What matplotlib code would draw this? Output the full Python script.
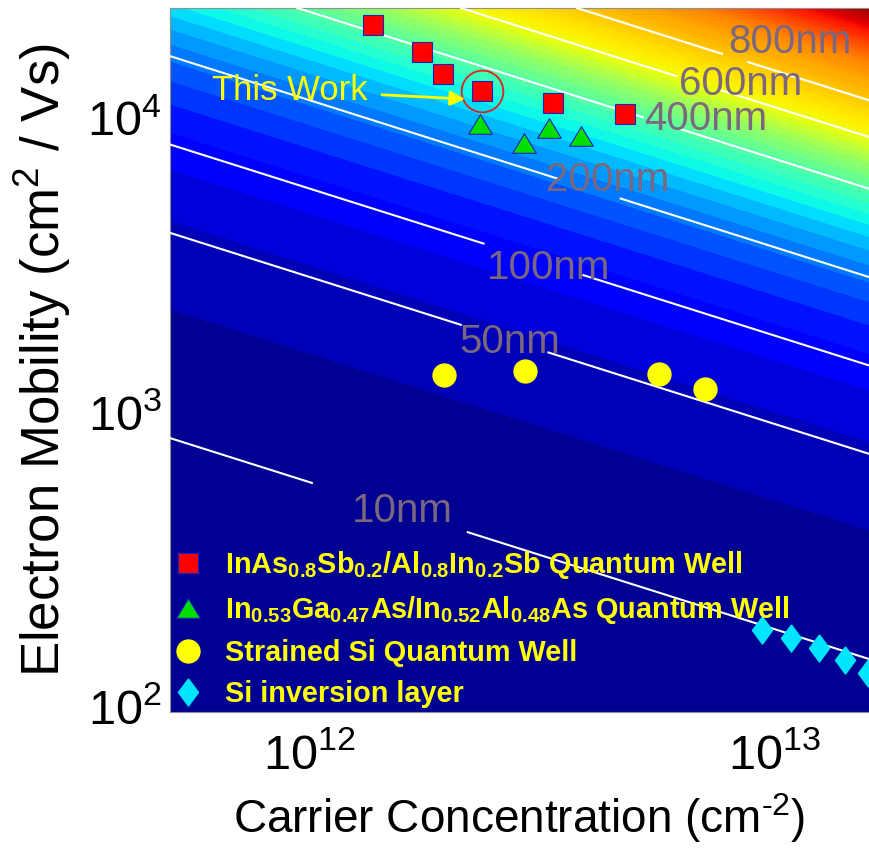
import numpy as np
import matplotlib
matplotlib.use('Agg')
import matplotlib.pyplot as plt
from matplotlib.colors import FuncNorm
from matplotlib.ticker import NullFormatter
from matplotlib.transforms import ScaledTranslation

plt.rcParams['font.family'] = ['Liberation Sans', 'DejaVu Sans']
plt.rcParams['mathtext.fontset'] = 'custom'
plt.rcParams['mathtext.rm'] = 'Liberation Sans'
plt.rcParams['mathtext.it'] = 'Liberation Sans:italic'
plt.rcParams['mathtext.bf'] = 'Liberation Sans:bold'
plt.rcParams['mathtext.default'] = 'regular'

# 实验数据: 载流子浓度 (cm^-2) 与电子迁移率 (cm^2/Vs)
inas_n = [1.37e12, 1.74e12, 1.94e12, 2.35e12, 3.34e12, 4.77e12]
inas_mu = [21900, 17700, 14900, 13000, 11900, 10900]
this_work_idx = 3

ingaas_n = [2.33e12, 2.89e12, 3.28e12, 3.84e12]
ingaas_mu = [10100, 8700, 9750, 9160]

ssi_n = [1.95e12, 2.91e12, 5.65e12, 7.10e12]
ssi_mu = [1405, 1450, 1417, 1259]

siinv_n = [9.41e12, 1.087e13, 1.25e13, 1.42e13, 1.59e13]
siinv_mu = [190, 179, 165, 150, 136]

series_labels = [
    r'InAs$_{0.8}$Sb$_{0.2}$/Al$_{0.8}$In$_{0.2}$Sb Quantum Well',
    r'In$_{0.53}$Ga$_{0.47}$As/In$_{0.52}$Al$_{0.48}$As Quantum Well',
    'Strained Si Quantum Well',
    'Si inversion layer',
]

# 平均自由程等值线 (nm) 及标注
mfp_levels = [10, 50, 100, 200, 400, 600, 800]
mfp_text = ['10nm', '50nm', '100nm', '200nm', '400nm', '600nm', '800nm']
mfp_text_n = [1.58e12, 2.69e12, 3.26e12, 4.37e12, 7.13e12, 8.48e12, 1.08e13]
mfp_text_mu = [484, 1820, 3250, 6490, 10460, 13770, 19140]
# 每条线在标注处断开的浓度区间
gap_lo = [1.016e12, 2.128e12, 2.384e12, 3.458e12, 5.22e12, 6.18e12, 7.76e12]
gap_hi = [2.16e12, 3.26e12, 3.876e12, 4.657e12, 6.27e12, 7.64e12, 8.78e12]

# 背景色阶: 平均自由程 -> jet 位置
cmap_l = [0, 100, 300, 600, 800, 1085, 1391, 1700]
cmap_p = [0, 0.115, 0.355, 0.64, 0.70, 0.77, 0.89, 1.0]
fill_step = 27.5

xlim = (5e11, 1.6e13)
ylim = (1e2, 2.5e4)

HBAR = 1.054571817e-34
QE = 1.602176634e-19


def mean_free_path(n, mu):
    """n: cm^-2, mu: cm^2/Vs -> nm"""
    kf = np.sqrt(2 * np.pi * n * 1e4)
    return HBAR / QE * mu * 1e-4 * kf * 1e9


fig = plt.figure(figsize=(8.69, 8.48), dpi=100)
ax = fig.add_axes([170 / 869, 1 - 712 / 848, 699 / 869, 704 / 848])

ng = np.logspace(np.log10(xlim[0]), np.log10(xlim[1]), 400)
mg = np.logspace(np.log10(ylim[0]), np.log10(ylim[1]), 400)
N, MU = np.meshgrid(ng, mg)
L = mean_free_path(N, MU)

norm = FuncNorm((lambda v: np.interp(v, cmap_l, cmap_p),
                 lambda p: np.interp(p, cmap_p, cmap_l)), vmin=0, vmax=1700)
levels = np.arange(0, L.max() + fill_step, fill_step)
ax.contourf(N, MU, L, levels=levels, cmap='jet', norm=norm)

# 等值线: 先由 contour 求出路径, 再在标注处断开后画白线
cs = ax.contour(N, MU, L, levels=mfp_levels)
paths = cs.get_paths()
for i, p in enumerate(paths):
    for seg in p.to_polygons(closed_only=False):
        sx = seg[:, 0].copy()
        sy = seg[:, 1].copy()
        sy[(sx > gap_lo[i]) & (sx < gap_hi[i])] = np.nan
        ax.plot(sx, sy, color='white', lw=1.5, zorder=3)
cs.remove()

for t, tn, tm in zip(mfp_text, mfp_text_n, mfp_text_mu):
    ax.text(tn, tm, t, color='#7b687f', fontsize=29, ha='center', va='center', zorder=4)

ax.plot(inas_n, inas_mu, ls='none', marker='s', ms=14.4, mfc='red', mec='#2020c0',
        mew=0.8, label=series_labels[0], zorder=5)
tri = [(-1, -0.83), (1, -0.83), (0, 0.83), (-1, -0.83)]
ax.plot(ingaas_n, ingaas_mu, ls='none', marker=tri, ms=17, mfc='#00e000', mec='#2020c0',
        mew=0.8, label=series_labels[1], zorder=5)
ax.plot(ssi_n, ssi_mu, ls='none', marker='o', ms=16.5, mfc='yellow', mec='yellow',
        label=series_labels[2], zorder=5)
dia = [(0, 1), (0.74, 0), (0, -1), (-0.74, 0), (0, 1)]
ax.plot(siinv_n, siinv_mu, ls='none', marker=dia, ms=19.5, mfc='#00e5ff', mec='#00e5ff',
        label=series_labels[3], zorder=5)

# This Work 标记
tw_n, tw_mu = inas_n[this_work_idx], inas_mu[this_work_idx]
ax.plot([tw_n], [tw_mu], ls='none', marker='o', ms=30, mfc='none', mec='#e02020', mew=1.3, zorder=6)
ax.annotate('This Work', xy=(2.16e12, 12240), xytext=(1.335e12, 13140),
            color='yellow', fontsize=25, ha='right', va='center',
            arrowprops=dict(arrowstyle='-|>', color='yellow', lw=2, mutation_scale=22,
                            shrinkA=8, shrinkB=0), zorder=6)

ax.set_xscale('log')
ax.set_yscale('log')
ax.set_xlim(*xlim)
ax.set_ylim(*ylim)
ax.set_xticks([1e12, 1e13])
ax.set_yticks([1e2, 1e3, 1e4])
ax.xaxis.set_minor_formatter(NullFormatter())
ax.yaxis.set_minor_formatter(NullFormatter())
ax.tick_params(which='both', length=0, labelsize=35)
ax.tick_params(axis='x', pad=15)
ax.tick_params(axis='y', pad=6)
shift_up = ScaledTranslation(0, 0.06, fig.dpi_scale_trans)
for lab in ax.get_yticklabels():
    lab.set_transform(lab.get_transform() + shift_up)

for side in ['left', 'bottom', 'top']:
    ax.spines[side].set_color('#909090')
    ax.spines[side].set_linewidth(0.8)
ax.spines['right'].set_visible(False)

ax.set_xlabel('Carrier Concentration (cm$^{\u20102}$)', fontsize=33, labelpad=9)
ax.set_ylabel(r'Electron Mobility (cm$^{2}$ / Vs)', fontsize=38, labelpad=10)

leg = ax.legend(loc='lower left', bbox_to_anchor=(0.006, 0.006), borderaxespad=0,
                borderpad=0, frameon=False, handlelength=0.95, handletextpad=0.8,
                labelspacing=0.45, labelcolor='yellow',
                prop={'weight': 'bold', 'size': 20.8})
leg.set_zorder(7)

fig.savefig('out.png', dpi=100)
